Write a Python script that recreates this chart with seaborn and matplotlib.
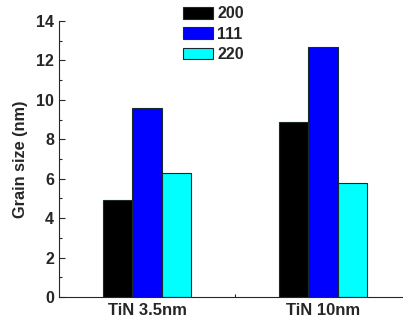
import pandas as pd
import matplotlib
matplotlib.use("Agg")
import matplotlib.pyplot as plt
import seaborn as sns
from matplotlib.ticker import MultipleLocator, FixedLocator

# data
samples = ["TiN 3.5nm", "TiN 10nm"]
planes = ["200", "111", "220"]
size_200 = [4.9, 8.9]
size_111 = [9.6, 12.7]
size_220 = [6.3, 5.8]
colors = ["#000000", "#0000FF", "#00FFFF"]

rows = []
for plane, vals in zip(planes, [size_200, size_111, size_220]):
    for s, v in zip(samples, vals):
        rows.append({"sample": s, "plane": plane, "size": v})
df = pd.DataFrame(rows)

sns.set_style("ticks")
plt.rcParams['font.family'] = ['Liberation Sans', 'DejaVu Sans']
plt.rcParams['font.weight'] = 'bold'

fig = plt.figure(figsize=(4.03, 3.24), dpi=100)
ax = fig.add_axes([59/403, 27/324, 352/403, 276/324])

sns.barplot(data=df, x="sample", y="size", hue="plane", order=samples,
            hue_order=planes, palette=colors, width=0.5, saturation=1,
            edgecolor="#1a2a2a", linewidth=0.8, ax=ax)

ax.set_xlim(-0.5, 1.5)
ax.set_ylim(0, 14)
ax.yaxis.set_major_locator(MultipleLocator(2))
ax.yaxis.set_minor_locator(MultipleLocator(1))
ax.xaxis.set_minor_locator(FixedLocator([0.5]))
ax.tick_params(axis="both", which="both", direction="in")
ax.tick_params(axis="x", labelsize=12, pad=4)
ax.tick_params(axis="y", labelsize=11.5)
ax.tick_params(which="major", length=4, width=0.8)
ax.tick_params(which="minor", length=2.5, width=0.8)
for lab in ax.get_xticklabels() + ax.get_yticklabels():
    lab.set_fontweight("bold")
ax.set_xlabel("")
ax.set_ylabel("Grain size (nm)", fontsize=11.7, fontweight="bold", labelpad=6)
sns.despine(ax=ax)
for sp in ["left", "bottom"]:
    ax.spines[sp].set_linewidth(0.8)

handles, labels = ax.get_legend_handles_labels()
ax.legend(handles, labels, loc="upper left", bbox_to_anchor=(183/403, 1 - 6.5/324),
          bbox_transform=fig.transFigure, frameon=False,
          handlelength=1.85, handleheight=0.7, handletextpad=0.3,
          labelspacing=0.32, borderpad=0, borderaxespad=0,
          prop={"weight": "bold", "size": 11.5})

fig.savefig("out.png", dpi=100)
